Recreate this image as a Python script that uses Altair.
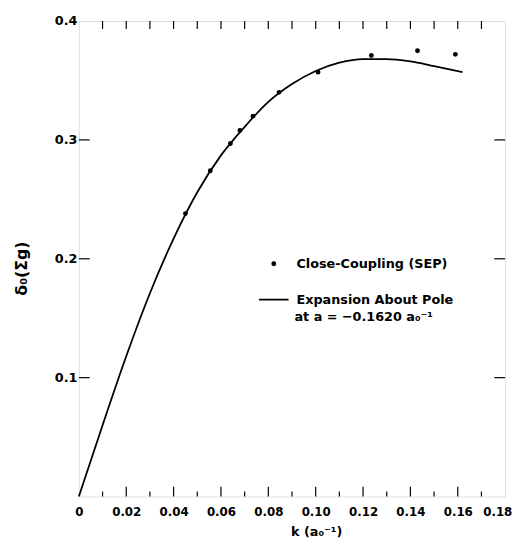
import altair as alt
import pandas as pd

# Close-coupling (SEP) points
sep_k = [0.045, 0.0555, 0.064, 0.068, 0.0735, 0.0845, 0.101, 0.1235, 0.143, 0.159]
sep_y = [0.238, 0.274, 0.297, 0.308, 0.320, 0.340, 0.357, 0.371, 0.375, 0.372]

# Expansion about pole curve
curve_k = [0, 0.01, 0.02, 0.03, 0.04, 0.05, 0.06, 0.07, 0.08, 0.09, 0.10, 0.11, 0.12, 0.13, 0.14, 0.15, 0.162]
curve_y = [0, 0.060, 0.118, 0.171, 0.217, 0.256, 0.287, 0.311, 0.332, 0.347, 0.358, 0.365, 0.368, 0.368, 0.366, 0.362, 0.357]

x_ticks = [0, 0.02, 0.04, 0.06, 0.08, 0.10, 0.12, 0.14, 0.16, 0.18]
x_minor = [0.01, 0.03, 0.05, 0.07, 0.09, 0.11, 0.13, 0.15, 0.17]
y_ticks = [0.1, 0.2, 0.3, 0.4]
y_inner = [0.1, 0.2, 0.3]

series = ["Close-Coupling (SEP)", "Expansion About Pole"]
pole_note = ["at a = −0.1620 a₀⁻¹"]

FONT = "DejaVu Sans"

pts = pd.DataFrame({"k": sep_k, "d": sep_y, "s": series[0]})
crv = pd.DataFrame({"k": curve_k, "d": curve_y})
bmaj = pd.DataFrame({"k": x_ticks[1:-1]})
bmin = pd.DataFrame({"k": x_minor})
topt = pd.DataFrame({"k": sorted(x_ticks[1:-1] + x_minor)})
yt = pd.DataFrame({"d": y_inner})
note = pd.DataFrame({"t": pole_note})

xs = alt.Scale(domain=[0, 0.18], nice=False)
ys = alt.Scale(domain=[0, 0.4], nice=False)

xaxis = alt.Axis(values=x_ticks, labelExpr="datum.value == 0 ? '0' : format(datum.value, '.2f')",
                 ticks=False, domain=False, grid=False, labelPadding=10,
                 labelOverlap=False, labelFlush=False,
                 labelOffset={"condition": {"test": "datum.value >= 0.179", "value": -8}, "value": 0},
                 labelFont=FONT, labelFontSize=12, labelFontWeight="bold", labelColor="black",
                 title="k (a₀⁻¹)", titleFont=FONT, titleFontSize=13, titleFontWeight="bold",
                 titleColor="black", titleX=241, titleY=30, titleAnchor="middle")
yaxis = alt.Axis(values=y_ticks, format=".1f", ticks=False, domain=False, grid=False,
                 labelPadding=2, labelOverlap=False, labelFlush=False,
                 labelFont=FONT, labelFontSize=13, labelFontWeight="bold",
                 labelColor="black",
                 title="δ₀(Σg)", titleFont=FONT, titleFontSize=16, titleFontWeight="bold",
                 titleColor="black", titleX=-58, titleY=251, titleAngle=270,
                 titleAlign="center", titleBaseline="middle")

line = alt.Chart(crv).mark_line(color="black", strokeWidth=1.8, interpolate="monotone").encode(
    x=alt.X("k:Q", scale=xs, axis=xaxis),
    y=alt.Y("d:Q", scale=ys, axis=yaxis),
)

points = alt.Chart(pts).mark_point(filled=True, color="black", stroke="black",
                                   strokeWidth=1.8, opacity=1).encode(
    x=alt.X("k:Q", scale=xs),
    y=alt.Y("d:Q", scale=ys),
    shape=alt.Shape("s:N", scale=alt.Scale(domain=series, range=["circle", "stroke"]),
                    legend=alt.Legend(title=None, orient="none", legendX=182, legendY=240,
                                      labelFont=FONT, labelFontSize=13, labelFontWeight="bold",
                                      labelColor="black", labelOffset=7, labelLimit=400,
                                      rowPadding=13, labelBaseline="middle",
                                      symbolStrokeColor="black", symbolStrokeWidth=1.8)),
    size=alt.Size("s:N", scale=alt.Scale(domain=series, range=[10, 900])),
)

note_text = alt.Chart(note).mark_text(align="left", baseline="middle", font=FONT, fontSize=13,
                                      fontWeight="bold", color="black").encode(
    text="t:N", x=alt.value(219), y=alt.value(301))

tick_b_major = alt.Chart(bmaj).mark_rule(color="black", strokeWidth=1.2).encode(
    x=alt.X("k:Q", scale=xs), y=alt.value(483), y2=alt.value(473))
tick_b_minor = alt.Chart(bmin).mark_rule(color="black", strokeWidth=1.2).encode(
    x=alt.X("k:Q", scale=xs), y=alt.value(483), y2=alt.value(478))
tick_top = alt.Chart(topt).mark_rule(color="black", strokeWidth=1.2).encode(
    x=alt.X("k:Q", scale=xs), y=alt.value(0), y2=alt.value(8))
tick_left = alt.Chart(yt).mark_rule(color="black", strokeWidth=1.2).encode(
    y=alt.Y("d:Q", scale=ys), x=alt.value(0), x2=alt.value(11))
tick_right = alt.Chart(yt).mark_rule(color="black", strokeWidth=1.2).encode(
    y=alt.Y("d:Q", scale=ys), x=alt.value(433), x2=alt.value(422))

chart = alt.layer(line, points, note_text, tick_b_major, tick_b_minor, tick_top, tick_left, tick_right).properties(
    width=433, height=483,
    autosize=alt.AutoSizeParams(type="none"),
    padding={"left": 72, "top": 9, "right": 8, "bottom": 44},
).configure_view(stroke="black", strokeWidth=1.5).configure(background="white")

chart.save("out.html", embed_options={"renderer": "svg", "actions": False})
